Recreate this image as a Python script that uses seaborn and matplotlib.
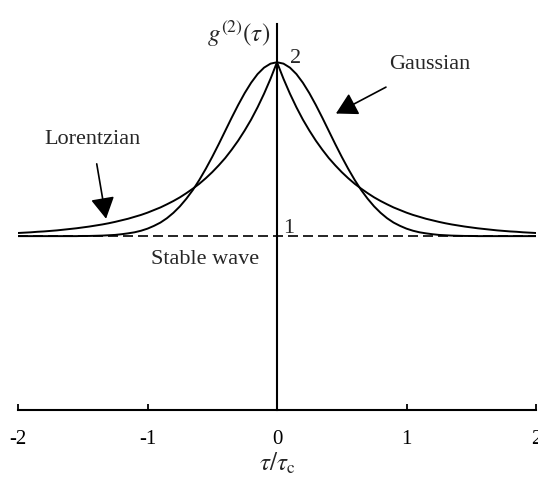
import numpy as np
import pandas as pd
import matplotlib
matplotlib.use("Agg")
import matplotlib.pyplot as plt
import seaborn as sns

# Normalised delay tau / tau_c (0.05 steps)
tau = [-2.00, -1.95, -1.90, -1.85, -1.80, -1.75, -1.70, -1.65, -1.60, -1.55,
       -1.50, -1.45, -1.40, -1.35, -1.30, -1.25, -1.20, -1.15, -1.10, -1.05,
       -1.00, -0.95, -0.90, -0.85, -0.80, -0.75, -0.70, -0.65, -0.60, -0.55,
       -0.50, -0.45, -0.40, -0.35, -0.30, -0.25, -0.20, -0.15, -0.10, -0.05,
       0.00,
       0.05, 0.10, 0.15, 0.20, 0.25, 0.30, 0.35, 0.40, 0.45, 0.50,
       0.55, 0.60, 0.65, 0.70, 0.75, 0.80, 0.85, 0.90, 0.95, 1.00,
       1.05, 1.10, 1.15, 1.20, 1.25, 1.30, 1.35, 1.40, 1.45, 1.50,
       1.55, 1.60, 1.65, 1.70, 1.75, 1.80, 1.85, 1.90, 1.95, 2.00]

# Second-order coherence of Lorentzian (collision-broadened) light
g2_lorentzian = [1.018, 1.020, 1.022, 1.025, 1.027, 1.030, 1.033, 1.037, 1.041, 1.045,
                 1.050, 1.055, 1.061, 1.067, 1.074, 1.082, 1.091, 1.100, 1.111, 1.122,
                 1.135, 1.150, 1.165, 1.183, 1.202, 1.223, 1.247, 1.273, 1.301, 1.333,
                 1.368, 1.407, 1.449, 1.497, 1.549, 1.607, 1.670, 1.741, 1.819, 1.905,
                 2.000,
                 1.905, 1.819, 1.741, 1.670, 1.607, 1.549, 1.497, 1.449, 1.407, 1.368,
                 1.333, 1.301, 1.273, 1.247, 1.223, 1.202, 1.183, 1.165, 1.150, 1.135,
                 1.122, 1.111, 1.100, 1.091, 1.082, 1.074, 1.067, 1.061, 1.055, 1.050,
                 1.045, 1.041, 1.037, 1.033, 1.030, 1.027, 1.025, 1.022, 1.020, 1.018]

# Second-order coherence of Gaussian (Doppler-broadened) light
g2_gaussian = [1.000, 1.000, 1.000, 1.000, 1.000, 1.000, 1.000, 1.000, 1.000, 1.000,
               1.001, 1.001, 1.002, 1.003, 1.005, 1.007, 1.011, 1.016, 1.022, 1.031,
               1.043, 1.059, 1.078, 1.103, 1.134, 1.171, 1.215, 1.265, 1.323, 1.387,
               1.456, 1.529, 1.605, 1.681, 1.754, 1.822, 1.882, 1.932, 1.969, 1.992,
               2.000,
               1.992, 1.969, 1.932, 1.882, 1.822, 1.754, 1.681, 1.605, 1.529, 1.456,
               1.387, 1.323, 1.265, 1.215, 1.171, 1.134, 1.103, 1.078, 1.059, 1.043,
               1.031, 1.022, 1.016, 1.011, 1.007, 1.005, 1.003, 1.002, 1.001, 1.001,
               1.000, 1.000, 1.000, 1.000, 1.000, 1.000, 1.000, 1.000, 1.000, 1.000]

# Perfectly stable wave
stable_level = 1.0

xticks = [-2, -1, 0, 1, 2]
xtick_labels = ["-2", "-1", "0", "1", "2"]

sns.set_theme(style="white")
plt.rcParams["font.family"] = ["Liberation Serif", "DejaVu Serif"]
plt.rcParams["mathtext.fontset"] = "stix"

df = pd.DataFrame({
    "tau": tau * 2,
    "g2": g2_lorentzian + g2_gaussian,
    "kind": ["Lorentzian"] * len(tau) + ["Gaussian"] * len(tau),
})

fig = plt.figure(figsize=(5.38, 4.85), dpi=100)
ax = fig.add_axes([18 / 538, 74 / 485, 518 / 538, 386 / 485])

sns.lineplot(data=df, x="tau", y="g2", hue="kind",
             palette={"Lorentzian": "black", "Gaussian": "black"},
             linewidth=1.4, legend=False, ax=ax, sort=True)

ax.plot([tau[0], tau[-1]], [stable_level, stable_level], color="black",
        lw=1.2, dashes=(6, 3))

ax.set_xlim(-2, 2)
ax.set_ylim(0, 2.22)

# Axes drawn as a bare cross: horizontal time axis and vertical g2 axis
for side in ["top", "right"]:
    ax.spines[side].set_visible(False)
ax.spines["bottom"].set_linewidth(1.5)
ax.spines["bottom"].set_color("black")
ax.spines["left"].set_position(("data", 0))
ax.spines["left"].set_linewidth(1.5)
ax.spines["left"].set_color("black")

ax.set_xticks(xticks)
ax.set_xticklabels(xtick_labels, fontsize=15)
ax.tick_params(axis="x", bottom=True, direction="in", length=4, width=1.3,
               pad=14, colors="black")
ax.set_yticks([])
ax.set_xlabel(r"$\tau/\tau_{\mathrm{c}}$", fontsize=18)
ax.xaxis.label.set_va("center")
ax.xaxis.set_label_coords(0.5, -0.135)
ax.set_ylabel("")

ax.text(-0.05, 2.17, r"$g^{(2)}(\tau)$", fontsize=18, ha="right", va="center")
ax.text(0.14, 2.03, "2", fontsize=16, ha="center", va="center")
ax.text(0.09, 1.05, "1", fontsize=16, ha="center", va="center")
ax.text(-0.556, 0.87, "Stable wave", fontsize=16, ha="center", va="center")

head = "-|>,head_length=0.5,head_width=0.28"
ax.annotate("Lorentzian", xy=(-1.32, 1.10), xytext=(-1.425, 1.56),
            fontsize=16, ha="center", va="center",
            arrowprops=dict(arrowstyle=head, color="black", lw=1.2,
                            mutation_scale=26, shrinkA=9, shrinkB=0))
ax.annotate("Gaussian", xy=(0.455, 1.705), xytext=(1.18, 1.99),
            fontsize=16, ha="center", va="center",
            arrowprops=dict(arrowstyle=head, color="black", lw=1.2,
                            mutation_scale=26, shrinkA=16, shrinkB=0))

fig.savefig("out.png", dpi=100, facecolor="white")
